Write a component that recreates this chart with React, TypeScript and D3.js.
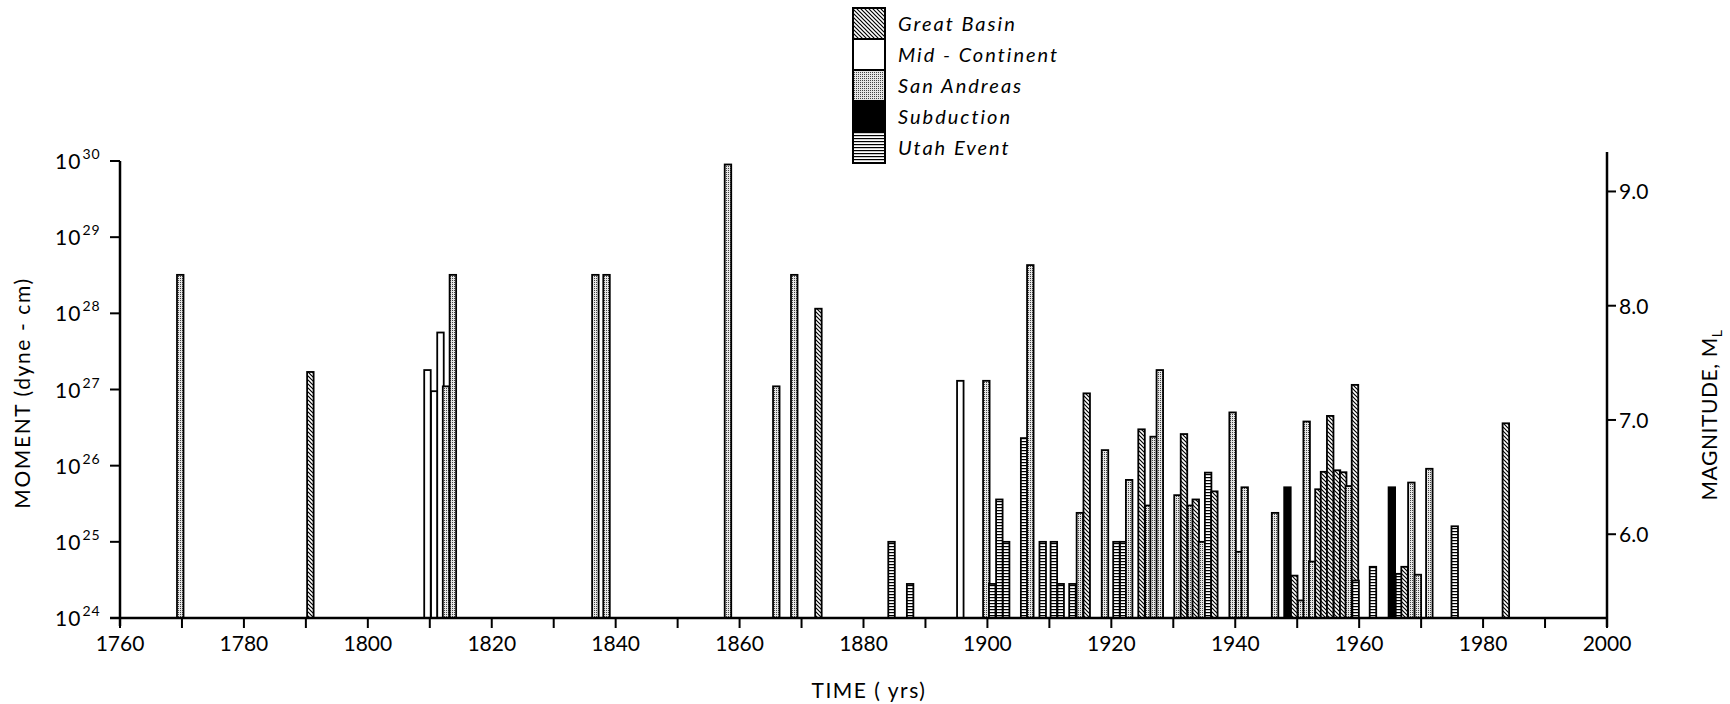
import React, { useEffect } from "react";
import * as d3 from "d3";

// ---- data ----
const PROVINCES = ["Great Basin", "Mid - Continent", "San Andreas", "Subduction", "Utah Event"];
const PATTERN_IDS = ["gb", "mc", "sa", "sub", "ut"];

// event position (year of bar's left edge)
const EVENT_POS = [
  1769.2, 1790.2, 1809.1, 1810.2, 1811.2, 1812.1, 1813.2, 1836.2, 1838.0, 1857.6,
  1865.4, 1868.3, 1872.2, 1884.0, 1887.0, 1895.1, 1899.3, 1900.25, 1901.4, 1902.5,
  1905.4, 1906.4, 1908.4, 1910.2, 1911.3, 1913.2, 1914.4, 1915.5, 1918.45, 1920.3,
  1921.4, 1922.35, 1924.35, 1925.45, 1926.3, 1927.3, 1930.15, 1931.2, 1932.3, 1933.1,
  1934.1, 1935.1, 1936.1, 1939.05, 1940.1, 1941.0, 1945.9, 1947.9, 1949.0, 1950.1,
  1951.0, 1951.9, 1952.9, 1953.8, 1954.8, 1955.9, 1956.9, 1957.8, 1958.8, 1958.9,
  1961.7, 1964.75, 1965.9, 1966.8, 1967.9, 1968.95, 1970.8, 1974.9, 1983.15,
];
// seismic moment (dyne-cm)
const EVENT_MOMENT = [
  3.2e28, 1.7e27, 1.8e27, 9.5e26, 5.6e27, 1.1e27, 3.2e28, 3.2e28, 3.2e28, 9e29,
  1.1e27, 3.2e28, 1.15e28, 1e25, 2.8e24, 1.3e27, 1.3e27, 2.8e24, 3.6e25, 1e25,
  2.3e26, 4.3e28, 1e25, 1e25, 2.8e24, 2.8e24, 2.4e25, 8.9e26, 1.6e26, 1e25,
  1e25, 6.5e25, 3e26, 3e25, 2.4e26, 1.8e27, 4.1e25, 2.6e26, 3e25, 3.6e25,
  1e25, 8.1e25, 4.6e25, 5e26, 7.4e24, 5.2e25, 2.4e25, 5.2e25, 3.6e24, 1.7e24,
  3.8e26, 5.5e24, 4.9e25, 8.3e25, 4.5e26, 8.7e25, 8.2e25, 5.4e25, 1.15e27, 3.1e24,
  4.7e24, 5.2e25, 3.8e24, 4.7e24, 6e25, 3.7e24, 9.1e25, 1.6e25, 3.6e26,
];
// province index into PROVINCES
const EVENT_PROVINCE = [
  2, 0, 1, 1, 1, 2, 2, 2, 2, 2,
  2, 2, 0, 4, 4, 1, 2, 4, 4, 4,
  4, 2, 4, 4, 4, 4, 2, 0, 2, 4,
  4, 2, 0, 2, 2, 2, 2, 0, 2, 0,
  2, 4, 0, 2, 2, 2, 2, 3, 0, 2,
  2, 2, 0, 0, 0, 0, 0, 2, 0, 4,
  4, 3, 4, 0, 2, 2, 2, 4, 0,
];

const X_DOMAIN = [1760, 2000];
const X_TICKS = d3.range(1760, 2001, 10);
const X_LABELS = d3.range(1760, 2001, 20);
const Y_EXPONENTS = [24, 25, 26, 27, 28, 29, 30];
const MAG_TICKS = [6.0, 7.0, 8.0, 9.0];
const BAR_WIDTH_YEARS = 1.05;

const FONT = "Lato, 'DejaVu Sans', sans-serif";

export default function App() {
  useEffect(() => {
    document.body.style.margin = "0";
  }, []);

  const W = 1730;
  const H = 704;
  const left = 120;
  const right = 1607;
  const base = 618;
  const top = 161;

  const x = d3.scaleLinear().domain(X_DOMAIN).range([left, right]);
  const y = d3.scaleLog().domain([1e24, 1e30]).range([base, top]);
  // magnitude axis: log10(M0) = 1.5 M + 16.1
  const mag = d3
    .scaleLinear()
    .domain([(24 - 16.1) / 1.5, (30 - 16.1) / 1.5])
    .range([base, top]);

  const bars = EVENT_POS.map((p, i) => ({
    x0: x(p),
    x1: x(p + BAR_WIDTH_YEARS),
    yTop: y(EVENT_MOMENT[i]),
    prov: EVENT_PROVINCE[i],
  }));

  const fillFor = (k: number) =>
    k === 1 ? "#fff" : k === 3 ? "#000" : `url(#${PATTERN_IDS[k]})`;

  const legendX = 853;
  const legendY = [8, 39, 70, 101, 132];
  const legendH = 31;

  return (
    <svg width={W} height={H} style={{ display: "block", background: "#fff" }} fontFamily={FONT}>
      <defs>
        <pattern id="gb" patternUnits="userSpaceOnUse" width={4} height={4}>
          <rect width={4} height={4} fill="#fff" />
          <path d="M-1,-1 L5,5 M-1,3 L1,5 M3,-1 L5,1" stroke="#000" strokeWidth={1.2} />
        </pattern>
        <pattern id="sa" patternUnits="userSpaceOnUse" width={2} height={2}>
          <rect width={2} height={2} fill="#e6e6e6" />
          <rect width={1} height={1} fill="#444" />
        </pattern>
        <pattern id="ut" patternUnits="userSpaceOnUse" width={3} height={3}>
          <rect width={3} height={3} fill="#fff" />
          <rect y={0} width={3} height={1.2} fill="#000" />
        </pattern>
      </defs>

      {/* bars */}
      <g>
        {bars.map((b, i) => (
          <rect
            key={i}
            x={b.x0}
            y={b.yTop}
            width={b.x1 - b.x0}
            height={base - b.yTop}
            fill={fillFor(b.prov)}
            stroke="#000"
            strokeWidth={1.8}
          />
        ))}
      </g>

      {/* x axis */}
      <line x1={110} x2={right} y1={base} y2={base} stroke="#000" strokeWidth={2.5} />
      {X_TICKS.map((t) => (
        <line key={t} x1={x(t)} x2={x(t)} y1={base} y2={base + 10} stroke="#000" strokeWidth={2} />
      ))}
      {X_LABELS.map((t) => (
        <text key={t} x={x(t)} y={651} fontSize={21} textAnchor="middle" fill="#000">
          {t}
        </text>
      ))}
      <text x={869} y={698} fontSize={21} textAnchor="middle" fill="#000" letterSpacing={1.5}>
        TIME ( yrs)
      </text>

      {/* left axis */}
      <line x1={left} x2={left} y1={top} y2={base + 8} stroke="#000" strokeWidth={2.5} />
      {Y_EXPONENTS.map((e) => (
        <g key={e}>
          <line x1={left - 10} x2={left} y1={y(Math.pow(10, e))} y2={y(Math.pow(10, e))} stroke="#000" strokeWidth={2} />
          <text x={55} y={y(Math.pow(10, e)) + 8} fontSize={21} fill="#000" letterSpacing={1}>
            10
            <tspan fontSize={14} dy={-10} dx={1}>
              {e}
            </tspan>
          </text>
        </g>
      ))}
      <text
        transform={`translate(30,${393}) rotate(-90)`}
        fontSize={21}
        textAnchor="middle"
        fill="#000"
        letterSpacing={1.6}
      >
        MOMENT (dyne - cm)
      </text>

      {/* right axis */}
      <line x1={right} x2={right} y1={152} y2={base + 9} stroke="#000" strokeWidth={2.5} />
      {MAG_TICKS.map((m) => (
        <g key={m}>
          <line x1={right} x2={right + 9} y1={mag(m)} y2={mag(m)} stroke="#000" strokeWidth={2} />
          <text x={right + 12} y={mag(m) + 8} fontSize={21} fill="#000">
            {m.toFixed(1)}
          </text>
        </g>
      ))}
      <text
        transform={`translate(1717,${415}) rotate(-90)`}
        fontSize={21}
        textAnchor="middle"
        fill="#000"
        letterSpacing={0.6}
      >
        MAGNITUDE, M
        <tspan fontSize={14} dy={5}>
          L
        </tspan>
      </text>

      {/* legend */}
      {PROVINCES.map((p, k) => (
        <g key={p}>
          <rect
            x={legendX}
            y={legendY[k]}
            width={32}
            height={legendH}
            fill={fillFor(k)}
            stroke="#000"
            strokeWidth={2}
          />
          <text
            x={898}
            y={legendY[k] + legendH / 2 + 7}
            fontSize={20}
            fontStyle="italic"
            fill="#000"
            letterSpacing={2}
          >
            {p}
          </text>
        </g>
      ))}
    </svg>
  );
}
